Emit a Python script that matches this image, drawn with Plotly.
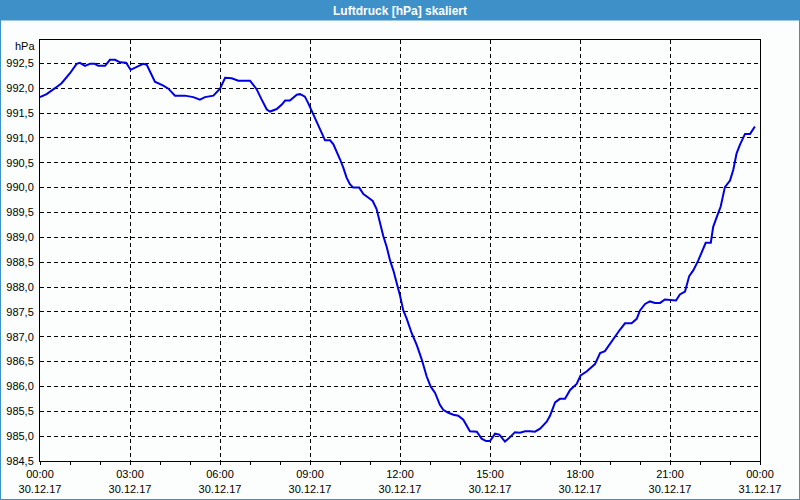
import plotly.graph_objects as go

# --- data (hours since 30.12.17 00:00, pressure in hPa) ---
hours = [
    0.00, 0.22, 0.50, 0.72, 1.00, 1.22, 1.33, 1.50, 1.67, 1.83, 1.94, 2.17, 2.33, 2.50, 2.67, 2.87,
    3.02, 3.22, 3.44, 3.56, 3.83, 4.11, 4.28, 4.50, 4.83, 5.11, 5.33, 5.50, 5.78, 6.00, 6.17, 6.39,
    6.61, 7.00, 7.22, 7.39, 7.56, 7.67, 7.89, 8.06, 8.17, 8.33, 8.56, 8.67, 8.83,
    8.94, 9.06, 9.17, 9.28, 9.39, 9.50, 9.67, 9.78, 9.89, 10.00, 10.11, 10.22, 10.33, 10.44, 10.64,
    10.78, 10.94, 11.09, 11.22, 11.33, 11.44, 11.56, 11.67, 11.78, 11.89, 12.00, 12.11, 12.22, 12.39,
    12.56, 12.72, 12.89, 13.02, 13.17, 13.33, 13.44, 13.61, 13.78, 13.94, 14.11, 14.33, 14.56, 14.72,
    14.87, 15.00, 15.17, 15.31, 15.50, 15.67, 15.83, 16.00, 16.17, 16.33, 16.50, 16.67, 16.89,
    17.00, 17.17, 17.33, 17.50, 17.67, 17.89, 18.02, 18.22, 18.50, 18.67, 18.83, 19.00, 19.17, 19.33,
    19.50, 19.72, 19.89, 20.00, 20.17, 20.33, 20.50, 20.67, 20.83, 21.00, 21.20, 21.33, 21.50, 21.64,
    21.78, 21.94, 22.06, 22.19, 22.36, 22.44, 22.56, 22.69, 22.83, 23.00, 23.11, 23.22, 23.33, 23.50,
    23.67, 23.83,
]
pressure = [
    991.82, 991.88, 992.00, 992.10, 992.30, 992.49, 992.51, 992.45, 992.49, 992.49, 992.45, 992.45,
    992.57, 992.57, 992.52, 992.51, 992.37, 992.42, 992.49, 992.47, 992.13, 992.05, 991.99, 991.85,
    991.85, 991.82, 991.77, 991.82, 991.85, 991.99, 992.21, 992.20, 992.15, 992.15, 991.98, 991.77,
    991.57, 991.53, 991.58, 991.67, 991.75, 991.75, 991.87, 991.88, 991.83,
    991.70, 991.53, 991.38, 991.23, 991.10, 990.95, 990.95, 990.87, 990.73, 990.57, 990.40, 990.20,
    990.07, 990.00, 990.00, 989.87, 989.80, 989.73, 989.57, 989.30, 989.03, 988.80, 988.53, 988.33,
    988.10, 987.83, 987.53, 987.37, 987.07, 986.83, 986.55, 986.20, 986.00, 985.87, 985.63, 985.53,
    985.47, 985.43, 985.41, 985.33, 985.10, 985.09, 984.95, 984.90, 984.90, 985.05, 985.03, 984.89,
    984.98, 985.08, 985.07, 985.10, 985.10, 985.09, 985.15, 985.29,
    985.41, 985.68, 985.75, 985.75, 985.93, 986.05, 986.22, 986.30, 986.45, 986.67, 986.71, 986.86,
    987.02, 987.14, 987.27, 987.27, 987.36, 987.53, 987.66, 987.71, 987.68, 987.68, 987.75, 987.74,
    987.73, 987.85, 987.91, 988.22, 988.34, 988.53, 988.71, 988.89, 988.89, 989.21, 989.41, 989.62,
    990.01, 990.14, 990.36, 990.69, 990.86, 991.08, 991.08, 991.23,
]

tick_hours = [0, 3, 6, 9, 12, 15, 18, 21, 24]
tick_times = ["00:00", "03:00", "06:00", "09:00", "12:00", "15:00", "18:00", "21:00", "00:00"]
tick_dates = ["30.12.17"] * 8 + ["31.12.17"]

title_text = "Luftdruck [hPa] skaliert"
unit_text = "hPa"

# --- layout constants (pixels) ---
W, H = 800, 500
ML, MR, MT, MB = 40, 40, 40, 39
PW, PH = W - ML - MR, H - MT - MB
BLUE = "#3d91c8"
BG = "#fbfefc"
FONT = "Liberation Sans"


def px_x(px):
    return (px - ML) / PW


def px_y(py):
    return (H - MB - py) / PH


fig = go.Figure()
fig.add_trace(go.Scatter(
    x=hours, y=pressure, mode="lines",
    line=dict(color="#0000e0", width=2),
    hoverinfo="skip",
))

ymin = 984.5
ymax = ymin + PH / 49.71

fig.update_layout(
    width=W, height=H,
    margin=dict(l=ML, r=MR, t=MT, b=MB, pad=0, autoexpand=False),
    paper_bgcolor=BG, plot_bgcolor=BG,
    showlegend=False,
    separators=",.",
    font=dict(family=FONT, size=11, color="black"),
    xaxis=dict(
        range=[0, 24],
        automargin=False,
        tickmode="array",
        tickvals=tick_hours,
        ticktext=[f"{t}<br>{d}" for t, d in zip(tick_times, tick_dates)],
        showgrid=True, gridcolor="black", gridwidth=1, griddash="4px,3px",
        showline=True, linecolor="black", linewidth=1, mirror=True,
        ticks="outside", ticklen=3, tickcolor="black",
        minor=dict(dtick=1, tick0=0, ticks="outside", ticklen=3, tickcolor="black", showgrid=False),
        zeroline=False,
        tickfont=dict(family=FONT, size=11, color="black"),
    ),
    yaxis=dict(
        range=[ymin, ymax],
        automargin=False,
        tick0=984.5, dtick=0.5, tickformat=".1f",
        showgrid=True, gridcolor="black", gridwidth=1, griddash="4px,3px",
        showline=True, linecolor="black", linewidth=1, mirror=True,
        ticks="", ticklabelstandoff=3,
        zeroline=False,
        tickfont=dict(family=FONT, size=11, color="black"),
    ),
    shapes=[
        dict(type="rect", xref="paper", yref="paper",
             x0=px_x(0), x1=px_x(W), y0=px_y(0), y1=px_y(20.5),
             fillcolor=BLUE, line=dict(width=0), layer="above"),
        dict(type="rect", xref="paper", yref="paper",
             x0=px_x(0), x1=px_x(W), y0=px_y(0), y1=px_y(H),
             fillcolor="rgba(0,0,0,0)", line=dict(color=BLUE, width=2), layer="above"),
    ],
    annotations=[
        dict(text=f"<b>{title_text}</b>", xref="paper", yref="paper",
             x=px_x(400), y=px_y(10.5), xanchor="center", yanchor="middle",
             showarrow=False, font=dict(family=FONT, size=12, color="white")),
        dict(text=unit_text, xref="paper", yref="paper",
             x=px_x(37), y=px_y(46), xanchor="right", yanchor="middle",
             showarrow=False, font=dict(family=FONT, size=11, color="black")),
    ],
)

fig.write_html("out.html")
